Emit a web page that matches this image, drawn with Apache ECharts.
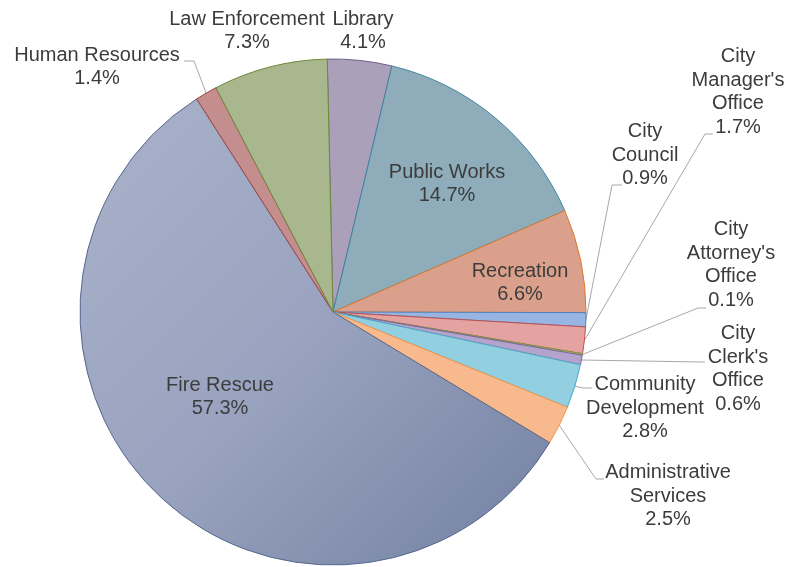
<!DOCTYPE html>
<html>
<head>
<meta charset="utf-8">
<script src="https://cdn.jsdelivr.net/npm/echarts@6/dist/echarts.min.js"></script>
<style>
html,body{margin:0;padding:0;background:#fff;}
#chart{width:786px;height:567px;}
</style>
</head>
<body>
<div id="chart"></div>
<script>
// ---- data ----
var categories = ["Library", "Public Works", "Recreation", "City Council", "City Manager's Office",
  "City Attorney's Office", "City Clerk's Office", "Community Development", "Administrative Services",
  "Fire Rescue", "Human Resources", "Law Enforcement"];
var shares = [4.1, 14.7, 6.6, 0.9, 1.7, 0.1, 0.6, 2.8, 2.5, 57.3, 1.4, 7.3];
var labelNames = ["Library", "Public Works", "Recreation", "City\nCouncil", "City\nManager's\nOffice",
  "City\nAttorney's\nOffice", "City\nClerk's\nOffice", "Community\nDevelopment", "Administrative\nServices",
  "Fire Rescue", "Human Resources", "Law Enforcement"];

// ---- styles / layout ----
var fills = ["#aaa0b9", "#8eacb9", "#daa08c", "#98b4e2", "#e4a2a1", "#a8c478", "#b4a3cc", "#92cfe0",
  "#f8b98c", null, "#c48e8e", "#a8b78e"];
var borders = ["#6e5f8a", "#3f87a3", "#e0782a", "#4f81bd", "#c0504d", "#77933c", "#8064a2", "#4bacc6",
  "#f79646", "#56688f", "#a04444", "#6f8a3a"];
var fireGradient = new echarts.graphic.LinearGradient(0, 0, 1, 1, [
  {offset: 0, color: '#aab2ca'},
  {offset: 0.5, color: '#99a3bf'},
  {offset: 1, color: '#7380a2'}
]);
var labelLayouts = [
  {x: 363, y: 31},
  {x: 447, y: 184},
  {x: 520, y: 283},
  {x: 645, y: 155, bend: [612, 185], end: [622, 185]},
  {x: 738, y: 92, bend: [705, 134], end: [713, 134]},
  {x: 731, y: 265, bend: [698, 308], end: [706, 308]},
  {x: 738, y: 369, bend: [700, 362], end: [705, 362]},
  {x: 645, y: 408, bend: [583, 388], end: [592, 388]},
  {x: 668, y: 496, bend: [596, 479], end: [604, 479]},
  {x: 220, y: 397},
  {x: 97, y: 67, bend: [194, 61], end: [184, 61]},
  {x: 247, y: 31}
];

var seriesData = categories.map(function (name, i) {
  var item = {
    name: name,
    value: shares[i],
    itemStyle: {
      color: i === 9 ? fireGradient : fills[i],
      borderColor: borders[i],
      borderWidth: 1
    }
  };
  if (!labelLayouts[i].end) {
    item.labelLine = {show: false};
  }
  return item;
});

var chart = echarts.init(document.getElementById('chart'), null, {renderer: 'canvas'});
chart.setOption({
  animation: false,
  backgroundColor: '#ffffff',
  series: [{
    type: 'pie',
    center: [333, 312],
    radius: 253,
    startAngle: 91.3,
    clockwise: true,
    avoidLabelOverlap: false,
    emphasis: {disabled: true},
    data: seriesData,
    label: {
      show: true,
      position: 'outside',
      color: '#3c3c3c',
      fontFamily: 'Liberation Sans, Arial, sans-serif',
      fontSize: 20,
      lineHeight: 23.5,
      align: 'center',
      formatter: function (p) {
        return labelNames[p.dataIndex] + '\n' + p.value.toFixed(1) + '%';
      }
    },
    labelLine: {
      show: true,
      length: 10,
      length2: 10,
      lineStyle: {color: '#a8a8a8', width: 1}
    },
    labelLayout: function (params) {
      var L = labelLayouts[params.dataIndex];
      var out = {x: L.x, y: L.y, align: 'center', verticalAlign: 'middle'};
      if (L.end && params.labelLinePoints) {
        var start = params.labelLinePoints[0];
        out.labelLinePoints = [[start[0], start[1]], L.bend, L.end];
      }
      return out;
    }
  }]
});
</script>
</body>
</html>
